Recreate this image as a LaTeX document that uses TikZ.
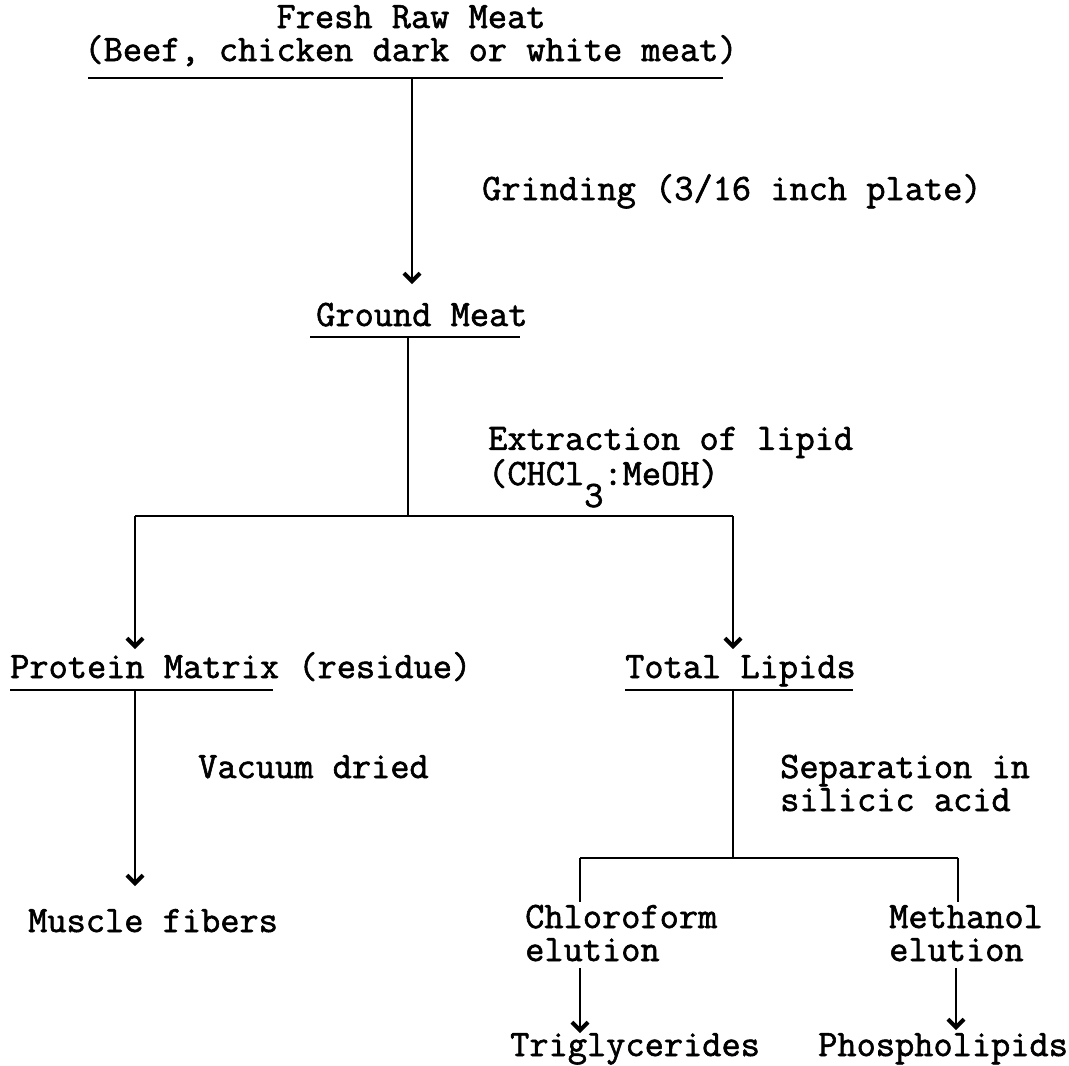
\documentclass[tikz,border=0pt]{standalone}
\usepackage{fontspec}
\newfontfamily\tw[FakeBold=1.6]{Latin Modern Mono}
\usetikzlibrary{arrows.meta}
\begin{document}
\begin{tikzpicture}[x=1pt,y=-1pt,
  lbl/.style={anchor=base west,inner sep=0pt,text height=22pt,text depth=6pt,font=\tw\fontsize{37.3}{33}\selectfont},
  lbl2/.style={anchor=base west,inner sep=0pt,align=left,font=\tw\fontsize{37.3}{33}\selectfont},
  conn/.style={line width=1.5pt},
  arr/.style={conn,-{Straight Barb[length=8pt,width=16pt,line width=4pt]}},
  uline/.style={line width=2.6pt}]
\useasboundingbox (0,0) rectangle (1069,1066);
% texts (multi-line nodes: base anchor is the last line's baseline)
\node[lbl2,align=center,anchor=base] (fresh) at (411,61) {Fresh Raw Meat\\(Beef, chicken dark or white meat)};
\node[lbl] (grind) at (482,200) {Grinding (3/16 inch plate)};
\node[lbl] (ground) at (316,326) {Ground Meat};
\node[lbl2] (extr) at (488,485) {Extraction of lipid\\(CHCl\raisebox{-22pt}{3}:MeOH)};
\node[lbl] (prot) at (10,678) {Protein Matrix (residue)};
\node[lbl] (total) at (625,678) {Total Lipids};
\node[lbl] (vac) at (198,778) {Vacuum dried};
\node[lbl2] (sep) at (780,811) {Separation in\\silicic acid};
\node[lbl] (muscle) at (28,932) {Muscle fibers};
\node[lbl2] (chl) at (525,961) {Chloroform\\elution};
\node[lbl2] (meth) at (889,961) {Methanol\\elution};
\node[lbl] (tri) at (510,1056) {Triglycerides};
\node[lbl] (phos) at (818,1056) {Phospholipids};
% underlines
\draw[uline] (88,78) coordinate (ubl) -- (723,78) coordinate (ubr);
\draw[uline] (310,337) coordinate (ugl) -- (520,337) coordinate (ugr);
\draw[uline] (10,690) coordinate (upl) -- (273,690) coordinate (upr);
\draw[uline] (625,690) coordinate (utl) -- (853,690) coordinate (utr);
% key points
\coordinate (u1) at (412,78);
\coordinate (g1) at (412,284);
\coordinate (u2) at (408,337);
\coordinate (s1) at (408,516);
\coordinate (sl) at (135,516);
\coordinate (sr) at (733,516);
\coordinate (pl) at (135,649);
\coordinate (tl) at (733,649);
\coordinate (u3) at (135,690);
\coordinate (m1) at (135,886);
\coordinate (u4) at (733,690);
\coordinate (s2) at (733,858);
\coordinate (cl) at (580,858);
\coordinate (cr) at (958,858);
\coordinate (cl1) at (580,902);
\coordinate (cr1) at (958,902);
\coordinate (cl2) at (580,968);
\coordinate (cr2) at (956,968);
\coordinate (tr1) at (580,1033);
\coordinate (ph1) at (956,1030);
% connectors
\draw[arr] (u1) -- (g1);
\draw[conn] (u2) -- (s1);
\draw[conn] (sl) -- (sr);
\draw[arr] (sl) -- (pl);
\draw[arr] (sr) -- (tl);
\draw[arr] (u3) -- (m1);
\draw[conn] (u4) -- (s2);
\draw[conn] (cl) -- (cr);
\draw[conn] (cl) -- (cl1);
\draw[conn] (cr) -- (cr1);
\draw[arr] (cl2) -- (tr1);
\draw[arr] (cr2) -- (ph1);
\end{tikzpicture}
\end{document}
